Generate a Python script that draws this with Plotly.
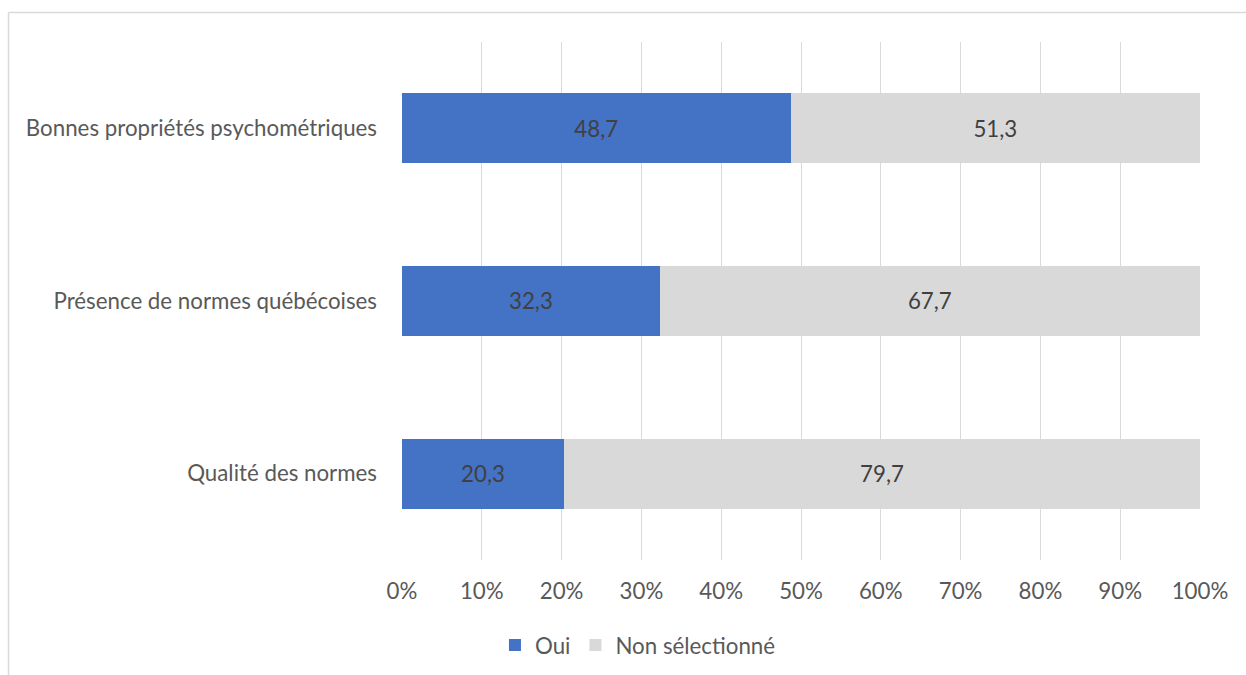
import plotly.graph_objects as go

# Critères de choix d'un test (%)
categories = ["Bonnes propriétés psychométriques", "Présence de normes québécoises", "Qualité des normes"]
oui = [48.7, 32.3, 20.3]
non_selectionne = [51.3, 67.7, 79.7]
x_ticks = [0, 10, 20, 30, 40, 50, 60, 70, 80, 90, 100]
x_tick_labels = [f"{v}%" for v in x_ticks]

FONT = "Lato, Calibri, Carlito, sans-serif"
TEXT = "#595959"
FS = 22.3

def fr(v):
    return f"{v:.1f}".replace(".", ",")

fig = go.Figure()
fig.add_trace(go.Bar(
    y=categories, x=oui, name="Oui", orientation="h",
    marker=dict(color="#4472C4", line=dict(width=0)),
    text=[fr(v) for v in oui], textposition="inside", insidetextanchor="middle",
    textfont=dict(color="#404040", size=FS, family=FONT),
    width=0.405,
))
fig.add_trace(go.Bar(
    y=categories, x=non_selectionne, name="Non sélectionné", orientation="h",
    marker=dict(color="#D9D9D9", line=dict(width=0)),
    text=[fr(v) for v in non_selectionne], textposition="inside", insidetextanchor="middle",
    textfont=dict(color="#404040", size=FS, family=FONT),
    width=0.405,
))

# cadre extérieur du graphique
W, H = 1246, 675
L, R, T, B = 402, 46, 42, 115
pw, ph = W - L - R, H - T - B
def px_x(p):
    return (p - L) / pw
def px_y(p):
    return 1 - (p - T) / ph

fig.update_layout(
    width=W, height=H,
    barmode="stack",
    margin=dict(l=L, r=R, t=T, b=B),
    paper_bgcolor="white", plot_bgcolor="white",
    font=dict(family=FONT, size=FS, color=TEXT),
    uniformtext=dict(mode="show", minsize=10),
    xaxis=dict(
        range=[0, 100], tickvals=x_ticks, ticktext=x_tick_labels,
        showgrid=True, gridcolor="#D9D9D9", gridwidth=1.3,
        zeroline=False, showline=False, ticks="",
        tickfont=dict(size=FS, color=TEXT), ticklabelstandoff=16,
        fixedrange=True,
    ),
    yaxis=dict(
        categoryorder="array", categoryarray=categories[::-1],
        showgrid=False, zeroline=False, showline=False, ticks="",
        tickfont=dict(size=FS, color=TEXT), ticklabelstandoff=24,
        fixedrange=True,
    ),
    legend=dict(
        orientation="h", xref="container", yref="container",
        x=0.512, xanchor="center", y=1 - 645 / H, yanchor="middle",
        font=dict(size=FS, color=TEXT), traceorder="normal",
        itemwidth=30, tracegroupgap=0,
    ),
    showlegend=True,
    shapes=[
        dict(type="line", xref="paper", yref="paper",
             x0=px_x(8.5), x1=px_x(W + 5), y0=px_y(12.5), y1=px_y(12.5),
             line=dict(color="#D9D9D9", width=1.5), layer="below"),
        dict(type="line", xref="paper", yref="paper",
             x0=px_x(8.5), x1=px_x(8.5), y0=px_y(12.5), y1=px_y(H + 5),
             line=dict(color="#D9D9D9", width=1.5), layer="below"),
    ],
)

fig.write_html("out.html")
